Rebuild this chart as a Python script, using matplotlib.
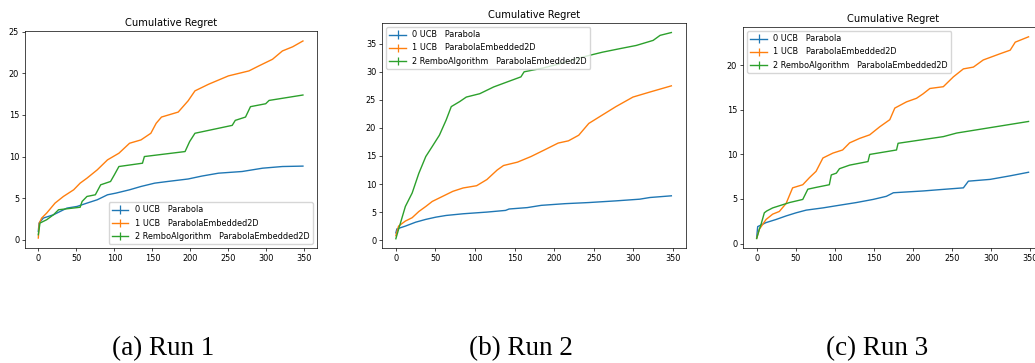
import numpy as np
import matplotlib.pyplot as plt

labels = ['0 UCB   Parabola',
          '1 UCB   ParabolaEmbedded2D',
          '2 RemboAlgorithm   ParabolaEmbedded2D']
captions = ['(a) Run 1', '(b) Run 2', '(c) Run 3']

# run 1 (x, y vertices)
r1_blue_x = [0, 1, 6.6, 20, 37.7, 51, 64, 77.5, 91, 102, 120, 135, 153, 170, 197, 215, 237, 268, 295, 321, 348]
r1_blue_y = [1.0, 2.0, 2.6, 3.0, 3.8, 4.0, 4.4, 4.8, 5.4, 5.6, 6.0, 6.4, 6.8, 7.0, 7.3, 7.65, 8.0, 8.2, 8.6, 8.8, 8.85]
r1_orange_x = [0, 1.3, 4.4, 11, 22, 33, 46.5, 55, 64, 77.5, 91, 106, 120, 135, 148, 155, 162, 184, 197, 206, 224, 250, 277, 290, 308, 321, 334.5, 348]
r1_orange_y = [0.2, 2.0, 2.6, 3.2, 4.4, 5.2, 6.0, 6.8, 7.4, 8.4, 9.6, 10.4, 11.6, 12.0, 12.8, 14.0, 14.75, 15.35, 16.7, 17.9, 18.7, 19.7, 20.3, 20.9, 21.7, 22.7, 23.2, 23.9]
r1_green_x = [0, 2.2, 11, 20, 26.6, 55, 57.6, 64, 75, 82, 95, 100, 106, 137, 139.5, 193, 199, 206, 255, 259, 272.5, 279, 299, 303.5, 348]
r1_green_y = [0.6, 2.0, 2.4, 3.0, 3.6, 3.9, 4.6, 5.2, 5.4, 6.6, 7.0, 7.8, 8.8, 9.2, 10.0, 10.6, 11.8, 12.8, 13.75, 14.35, 14.75, 16.0, 16.35, 16.75, 17.4]

# run 2
r2_blue_x = [0, 1.3, 12, 25, 37.8, 50.6, 63.5, 85, 115, 138.6, 143, 166, 183.6, 213.6, 243.7, 278, 308, 321, 348]
r2_blue_y = [1.3, 2.0, 2.5, 3.2, 3.7, 4.1, 4.4, 4.7, 5.0, 5.3, 5.55, 5.8, 6.2, 6.5, 6.7, 7.0, 7.3, 7.6, 7.9]
r2_orange_x = [0, 3.4, 12, 20.6, 29, 37.8, 46, 59, 72, 85, 102, 115, 128, 136, 153.6, 170.7, 188, 205, 218, 231, 243.7, 260.8, 278, 299.5, 321, 348]
r2_orange_y = [0.8, 2.5, 3.4, 4.0, 5.1, 6.0, 6.9, 7.8, 8.7, 9.3, 9.7, 10.8, 12.5, 13.3, 13.9, 14.9, 16.1, 17.3, 17.7, 18.7, 20.8, 22.3, 23.8, 25.5, 26.4, 27.5]
r2_green_x = [0, 3.4, 12, 20.6, 29, 37.8, 46, 55, 63.5, 70, 80.7, 89, 106, 123.5, 140.7, 158, 162, 183.6, 209, 235, 261, 282, 303.7, 325, 333.8, 348]
r2_green_y = [0.25, 1.9, 6.0, 8.4, 11.9, 14.9, 16.7, 18.7, 21.4, 23.8, 24.7, 25.5, 26.1, 27.3, 28.2, 29.1, 30.0, 30.6, 31.5, 32.6, 33.5, 34.1, 34.7, 35.6, 36.5, 37.0]

# run 3
r3_blue_x = [0, 1.3, 12, 24.8, 37.7, 50.5, 63.4, 84.8, 106, 127.6, 149, 166, 175, 213, 234.6, 264.6, 271, 298.8, 324.5, 348]
r3_blue_y = [0.67, 1.9, 2.35, 2.7, 3.1, 3.45, 3.75, 4.0, 4.3, 4.6, 4.95, 5.3, 5.7, 5.9, 6.05, 6.25, 7.0, 7.2, 7.6, 8.0]
r3_orange_x = [0, 3.4, 12, 20.5, 29, 37.7, 46, 59, 67.6, 76, 84.8, 97.6, 110, 119, 131.8, 144.7, 157.5, 170.4, 176.8, 191.8, 204.6, 213, 221.7, 238.9, 251.7, 264.6, 277.4, 290, 311.6, 324.5, 331, 348]
r3_orange_y = [0.6, 1.6, 2.7, 3.3, 3.6, 4.5, 6.25, 6.6, 7.4, 8.1, 9.6, 10.15, 10.5, 11.3, 11.8, 12.2, 13.1, 13.9, 15.2, 15.9, 16.3, 16.8, 17.4, 17.6, 18.7, 19.6, 19.8, 20.6, 21.3, 21.7, 22.6, 23.2]
r3_green_x = [0, 3.4, 5.6, 9.8, 12.8, 20.5, 42, 59, 65.5, 76, 93, 95.5, 102, 106, 119, 142.5, 144.7, 179, 181, 239, 256, 348]
r3_green_y = [0.56, 1.6, 2.15, 3.45, 3.65, 4.0, 4.6, 4.95, 6.1, 6.3, 6.6, 7.7, 7.9, 8.4, 8.8, 9.2, 10.0, 10.5, 11.25, 12.0, 12.4, 13.7]

runs = [
    [(r1_blue_x, r1_blue_y), (r1_orange_x, r1_orange_y), (r1_green_x, r1_green_y)],
    [(r2_blue_x, r2_blue_y), (r2_orange_x, r2_orange_y), (r2_green_x, r2_green_y)],
    [(r3_blue_x, r3_blue_y), (r3_orange_x, r3_orange_y), (r3_green_x, r3_green_y)],
]

W, H = 1035, 363
fig = plt.figure(figsize=(W / 100, H / 100), dpi=100)

# axes boxes in pixels: left, right, top, bottom
boxes = [(25, 317, 31, 248), (382, 686, 23, 248), (743, 1043, 27, 248)]
ylims = [(-1.0, 25.1), (-1.4, 38.7), (-0.5, 24.3)]
legend_loc = ['lower right', 'upper left', 'upper left']
caption_x = [163, 521, 877]
colors = ['#1f77b4', '#ff7f0e', '#2ca02c']

for i in range(3):
    l, r, t, b = boxes[i]
    ax = fig.add_axes([l / W, (H - b) / H, (r - l) / W, (b - t) / H])
    for j in range(3):
        xs, ys = runs[i][j]
        ax.errorbar(xs, ys, yerr=np.zeros(len(ys)), color=colors[j], lw=1.0,
                    elinewidth=0.9, label=labels[j])
    ax.set_xlim(-17.5, 366.5)
    ax.set_ylim(*ylims[i])
    ax.set_xticks([0, 50, 100, 150, 200, 250, 300, 350])
    ax.tick_params(labelsize=5.9, length=2.1, width=0.5, pad=2.1)
    for s in ax.spines.values():
        s.set_linewidth(0.5)
    ax.set_title('Cumulative Regret', fontsize=7.1, pad=3.6)
    ax.legend(loc=legend_loc[i], fontsize=5.9, handlelength=2.0,
              borderpad=0.4, labelspacing=0.5, framealpha=0.8)
    fig.text(caption_x[i] / W, 1 - 349 / H, captions[i], ha='center', va='center',
             family='Liberation Serif', fontsize=19.5)

fig.savefig('out.png', dpi=100)
